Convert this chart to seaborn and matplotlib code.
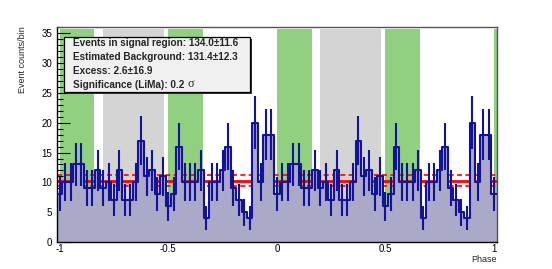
import numpy as np
import pandas as pd
import matplotlib
matplotlib.use("Agg")
import matplotlib.pyplot as plt
from matplotlib.patches import Rectangle
from matplotlib.ticker import MultipleLocator
import seaborn as sns

# counts per 0.025 phase bin over one period (bin centres 0.000 ... 0.975)
counts_one_period = [8, 10, 10, 13, 13, 9, 9, 12, 9, 10,
                     7, 12, 7, 7, 10, 17, 11, 12, 8, 11,
                     6, 8, 16, 10, 10, 10, 12, 4, 10, 10,
                     12, 16, 9, 7, 5, 4, 20, 10, 18, 18]
bin_width = 0.025
signal_regions = [(0.0, 0.16), (0.5, 0.66)]
background_regions = [(0.2, 0.48)]
bg_level = 10.27
bg_err = 0.96
stats_lines = ["Events in signal region: 134.0\u00b111.6",
               "Estimated Background: 131.4\u00b112.3",
               "Excess: 2.6\u00b116.9",
               "Significance (LiMa): 0.2"]
xtick_values = [-1, -0.5, 0, 0.5, 1]
xtick_labels = ["-1", "-0.5", "0", "0.5", "1"]
ytick_values = [0, 5, 10, 15, 20, 25, 30, 35]

line_color = "#13139a"
fill_color = "#aaa9c8"
green = "#90d080"
grey = "#d4d4d4"

sns.set_style("ticks")
plt.rcParams["font.family"] = ["Liberation Sans", "DejaVu Sans"]
plt.rcParams["axes.unicode_minus"] = False

# phase shown twice, from -1 to 1
counts = np.array(counts_one_period + counts_one_period + [counts_one_period[0]], dtype=float)
centres = np.linspace(-1, 1, len(counts))
df = pd.DataFrame({"phase": centres, "counts": counts})
lo, hi = -1 - bin_width / 2, 1 + bin_width / 2

fig = plt.figure(figsize=(5.52, 2.69), dpi=100)
ax = fig.add_axes([0.1033, 0.1004, 0.7965, 0.8003])
ymax = 36.1

for off in (-1, 0, 1):
    for a, b in signal_regions:
        ax.axvspan(a + off, b + off, ymin=0, ymax=35.7 / ymax, color=green, lw=0, zorder=0)
    for a, b in background_regions:
        ax.axvspan(a + off, b + off, ymin=0, ymax=35.7 / ymax, color=grey, lw=0, zorder=0)

ax.axhline(bg_level, color="red", lw=2.0, zorder=1)
ax.axhline(bg_level + bg_err, color="red", lw=1.2, ls=(0, (3, 2)), zorder=1)
ax.axhline(bg_level - bg_err, color="red", lw=1.2, ls=(0, (3, 2)), zorder=1)

sns.histplot(data=df, x="phase", weights="counts", binwidth=bin_width, binrange=(lo, hi),
             element="step", fill=True, color=fill_color, alpha=1, linewidth=0, ax=ax, zorder=2)
sns.histplot(data=df, x="phase", weights="counts", binwidth=bin_width, binrange=(lo, hi),
             element="step", fill=False, color=line_color, linewidth=1.5, ax=ax, zorder=4)
ax.errorbar(df["phase"], df["counts"], yerr=np.sqrt(df["counts"]), fmt="none",
            ecolor=line_color, elinewidth=1.5, capsize=0, zorder=4)

ax.set_xlim(lo, hi)
ax.set_ylim(0, ymax)
ax.set_xticks(xtick_values)
ax.set_xticklabels(xtick_labels)
ax.set_yticks(ytick_values)
ax.set_yticklabels([str(v) for v in ytick_values])
ax.xaxis.set_minor_locator(MultipleLocator(0.1))
ax.yaxis.set_minor_locator(MultipleLocator(1))
ax.tick_params(axis="both", which="both", direction="in", width=0.8, labelsize=7,
               top=False, right=False, colors="black")
ax.tick_params(axis="y", which="major", length=9, pad=3.5)
ax.tick_params(axis="y", which="minor", length=4.5)
ax.tick_params(axis="x", which="major", length=4.3, pad=1.5)
ax.tick_params(axis="x", which="minor", length=2.2)

for side in ("left", "bottom"):
    ax.spines[side].set_color("black")
    ax.spines[side].set_linewidth(1.0)
for side in ("top", "right"):
    ax.spines[side].set_color("#555555")
    ax.spines[side].set_linewidth(1.0)

ax.set_ylabel("Event counts/bin", loc="top", fontsize=6.5)
ax.yaxis.set_label_coords(-0.068, 1.0)
ax.set_xlabel("Phase", loc="right", fontsize=6.5)
ax.xaxis.set_label_coords(1.0, -0.06)

# statistics box with ROOT-like shadow
W, H = 552.0, 269.0
bx0, bx1, by0, by1 = 64, 250, 37, 92
fig.add_artist(Rectangle((bx0 / W + 2 / W, 1 - by1 / H - 2 / H), (bx1 - bx0) / W, (by1 - by0) / H,
                         transform=fig.transFigure, facecolor="#333333", edgecolor="none", zorder=5))
fig.add_artist(Rectangle((bx0 / W, 1 - by1 / H), (bx1 - bx0) / W, (by1 - by0) / H,
                         transform=fig.transFigure, facecolor="#f0f0f0", edgecolor="black", lw=0.9, zorder=6))
line_y = [43.3, 57.5, 71.3, 84.7]
for txt, yy in zip(stats_lines, line_y):
    fig.text(73.3 / W, 1 - yy / H, txt, fontsize=7.2, fontweight="bold", va="center", ha="left", zorder=7)
fig.text(188 / W, 1 - 84.2 / H, "\u03c3", fontsize=8.8, family=["Liberation Serif", "DejaVu Serif"],
         va="center", ha="left", zorder=7)

fig.savefig("out.png", dpi=100)
